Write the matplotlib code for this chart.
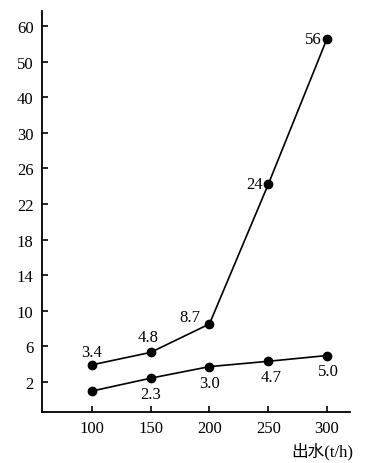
import matplotlib.pyplot as plt
import numpy as np

# flow rate (t/h)
flow = [100, 150, 200, 250, 300]

# upper and lower curves, read from point positions
upper = [3.9, 5.3, 8.5, 24.2, 56.5]
lower = [0.95, 2.4, 3.7, 4.3, 4.95]

# value labels printed next to points
upper_labels = ['3.4', '4.8', '8.7', '24', '56']
lower_labels = ['', '2.3', '3.0', '4.7', '5.0']

y_ticks = [2, 6, 10, 14, 18, 22, 26, 30, 40, 50, 60]


def forward(v):
    v = np.asarray(v, dtype=float)
    return np.where(v <= 30, v, 30 + (v - 30) * 0.4)


def inverse(p):
    p = np.asarray(p, dtype=float)
    return np.where(p <= 30, p, 30 + (p - 30) / 0.4)


plt.rcParams['font.family'] = ['Liberation Serif', 'Noto Sans CJK SC']

fig = plt.figure(figsize=(3.74, 4.64), dpi=100)
ax = fig.add_axes([0.112, 0.11, 0.824, 0.864])
ax.set_yscale('function', functions=(forward, inverse))

ax.plot(flow, upper, 'k-o', lw=1.2, ms=6)
ax.plot(flow, lower, 'k-o', lw=1.2, ms=6)

# label offsets in points
upper_off = [(0, 9), (-2, 11), (-14, 5), (-10, 0), (-10, 0)]
lower_off = [(0, 0), (0, -11.5), (0, -11.5), (2, -11), (1, -11)]
for x, y, t, o in zip(flow, upper, upper_labels, upper_off):
    ax.annotate(t, (x, y), xytext=o, textcoords='offset points',
                ha='center', va='center', fontsize=12)
for x, y, t, o in zip(flow, lower, lower_labels, lower_off):
    if t:
        ax.annotate(t, (x, y), xytext=o, textcoords='offset points',
                    ha='center', va='center', fontsize=12)

ax.set_xlim(57.5, 319.6)
ax.set_ylim(-1.4, inverse(43.7))
ax.set_xticks(flow)
ax.set_yticks(y_ticks)
ax.set_yticklabels([str(t) for t in y_ticks])
ax.yaxis.set_minor_locator(plt.NullLocator())
ax.tick_params(direction='in', length=4, width=1.2, labelsize=12, pad=6)
for s in ['top', 'right']:
    ax.spines[s].set_visible(False)
for s in ['left', 'bottom']:
    ax.spines[s].set_linewidth(1.3)

fig.text(0.861, 0.026, '出水(t/h)', ha='center', va='center', fontsize=12)

fig.savefig('out.png', dpi=100)
